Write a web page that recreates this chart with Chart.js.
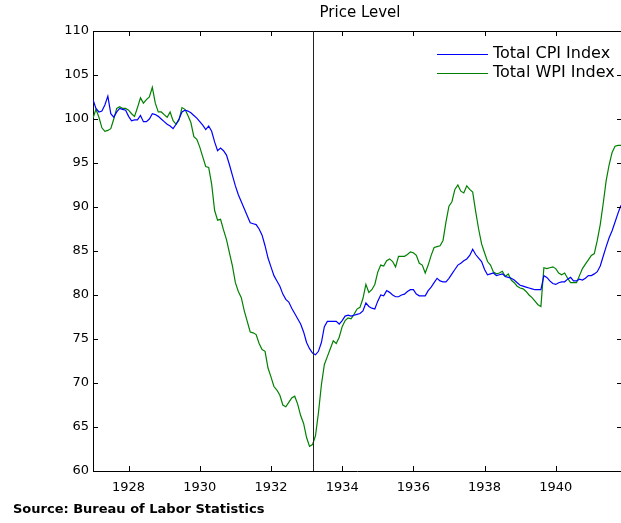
<!DOCTYPE html>
<html lang="en">
  <head>
    <meta charset="UTF-8">
    <title>Price Level</title>
    <script src="https://cdn.jsdelivr.net/npm/chart.js"></script>
    <style>
      body {
        margin: 0;
        padding: 0;
        background-color: #ffffff;
      }
      #priceChart {
        display: block;
      }
    </style>
  </head>
  <body>
  <canvas id="priceChart" width="621" height="523"></canvas>

  <script>
  // monthly values, Jan 1927 onward
  var startYear = 1927;
  var cpiValues = [
    102.2, 101.2, 100.8, 100.9, 101.6, 102.6, 100.6, 100.2, 100.8, 101.2, 101.1, 101.0,
    100.3, 99.8, 99.9, 99.9, 100.4, 99.7, 99.7, 100.0, 100.6, 100.5, 100.3, 100.0,
    99.7, 99.4, 99.2, 98.9, 99.4, 100.0, 100.8, 101.0, 100.9, 100.7, 100.4, 100.1,
    99.7, 99.3, 98.8, 99.2, 98.6, 97.4, 96.4, 96.7, 96.4, 95.9, 94.8, 93.6,
    92.4, 91.4, 90.6, 89.8, 89.0, 88.2, 88.1, 88.0, 87.5, 86.8, 85.6, 84.2,
    83.2, 82.2, 81.6, 81.0, 80.1, 79.5, 79.2, 78.5, 77.9, 77.3, 76.7, 75.8,
    74.6, 73.9, 73.4, 73.2, 73.6, 74.6, 76.4, 77.0, 77.0, 77.0, 77.0, 76.7,
    77.1, 77.6, 77.7, 77.6, 77.7, 77.8, 77.9, 78.2, 79.1, 78.7, 78.5, 78.4,
    79.3, 80.0, 79.9, 80.5, 80.3, 80.0, 79.8, 79.8, 80.0, 80.1, 80.4, 80.6,
    80.6, 80.1, 79.9, 79.9, 79.9, 80.5, 80.9, 81.4, 81.9, 81.6, 81.5, 81.5,
    81.9, 82.4, 82.9, 83.4, 83.6, 83.9, 84.1, 84.5, 85.2, 84.6, 84.2, 83.8,
    82.9, 82.3, 82.4, 82.5, 82.2, 82.3, 82.4, 82.1, 82.0, 81.9, 81.7, 81.4,
    81.1, 81.0, 80.9, 80.8, 80.7, 80.6, 80.6, 80.6, 82.2, 82.0, 81.6, 81.3,
    81.2, 81.4, 81.5, 81.5, 81.8, 82.0, 81.6, 81.6, 81.8, 81.7, 81.9, 82.2,
    82.2, 82.4, 82.65, 83.3, 84.4, 85.5, 86.5, 87.3, 88.3, 89.3, 90.2
  ];
  var wpiValues = [
    100.1, 101.1, 100.2, 99.0, 98.6, 98.7, 98.9, 100.0, 101.2, 101.4, 101.2, 101.2,
    101.0, 100.6, 100.3, 101.3, 102.4, 101.8, 102.2, 102.5, 103.6, 101.8, 100.8, 100.8,
    100.5, 100.2, 100.8, 99.8, 99.4, 99.9, 101.3, 101.1, 100.4, 99.6, 98.0, 97.7,
    96.8, 95.7, 94.6, 94.5, 92.6, 89.6, 88.5, 88.6, 87.4, 86.3, 84.8, 83.3,
    81.4, 80.4, 79.7, 78.2, 77.0, 75.8, 75.7, 75.5, 74.5, 73.8, 73.6, 71.7,
    70.7, 69.6, 69.2, 68.6, 67.5, 67.3, 67.8, 68.3, 68.5, 67.6, 66.3, 65.4,
    63.8, 62.8, 63.0, 64.0, 66.6, 69.8, 72.1, 73.0, 73.9, 74.8, 74.5, 75.2,
    76.4, 77.1, 77.4, 77.3, 77.8, 78.4, 78.6, 79.6, 81.2, 80.3, 80.6, 81.2,
    82.6, 83.4, 83.3, 83.9, 84.1, 83.8, 83.2, 84.4, 84.4, 84.4, 84.6, 84.9,
    84.8, 84.5, 83.6, 83.4, 82.5, 83.4, 84.5, 85.4, 85.5, 85.6, 86.2, 88.3,
    90.1, 90.6, 92.0, 92.5, 91.8, 91.6, 92.4, 92.0, 91.7, 89.5, 87.5, 85.8,
    84.8, 83.8, 83.4, 82.6, 82.4, 82.5, 82.7, 82.1, 82.4, 81.7, 81.4, 81.0,
    80.8, 80.7, 80.4, 80.0, 79.7, 79.3, 78.9, 78.7, 83.1, 83.0, 83.1, 83.2,
    83.0, 82.5, 82.3, 82.5, 81.9, 81.4, 81.4, 81.4, 82.2, 83.0, 83.5, 84.0,
    84.5, 84.7, 86.2, 88.0, 90.4, 93.0, 94.8, 96.2, 96.9, 97.0, 97.0
  ];
  var yearTicks = [1928, 1930, 1932, 1934, 1936, 1938, 1940];
  var levelTicks = [60, 65, 70, 75, 80, 85, 90, 95, 100, 105, 110];
  var markerDate = 1933 + 2 / 12; // March 1933

  function toPoints(values) {
    return values.map(function(v, i) {
      return { x: startYear + i / 12, y: v };
    });
  }

  var tickFont = { family: 'DejaVu Sans', size: 13 };

  // title, source line, legend, inward ticks, top border, marker line
  var decorPlugin = {
    id: 'decor',
    afterDraw: function(chart) {
      var ctx = chart.ctx;
      var area = chart.chartArea;
      var xs = chart.scales.x;
      var ys = chart.scales.y;
      ctx.save();

      ctx.strokeStyle = '#000000';
      ctx.lineWidth = 1;
      ctx.beginPath();
      ctx.moveTo(area.left, area.top + 0.5);
      ctx.lineTo(area.right, area.top + 0.5);
      yearTicks.forEach(function(t) {
        var px = Math.round(xs.getPixelForValue(t)) + 0.5;
        ctx.moveTo(px, area.bottom);
        ctx.lineTo(px, area.bottom - 5);
        ctx.moveTo(px, area.top);
        ctx.lineTo(px, area.top + 5);
      });
      levelTicks.forEach(function(t) {
        var py = Math.round(ys.getPixelForValue(t)) + 0.5;
        ctx.moveTo(area.left, py);
        ctx.lineTo(area.left + 5, py);
        ctx.moveTo(area.right, py);
        ctx.lineTo(area.right - 4, py);
      });
      ctx.stroke();

      var mx = Math.round(xs.getPixelForValue(markerDate)) + 0.5;
      ctx.strokeStyle = '#222222';
      ctx.beginPath();
      ctx.moveTo(mx, area.top);
      ctx.lineTo(mx, area.bottom);
      ctx.stroke();

      ctx.fillStyle = '#000000';
      ctx.font = '15px "DejaVu Sans"';
      ctx.textAlign = 'center';
      ctx.textBaseline = 'middle';
      ctx.fillText('Price Level', 360, 13);

      ctx.font = 'bold 13px "DejaVu Sans"';
      ctx.textAlign = 'left';
      ctx.textBaseline = 'alphabetic';
      ctx.fillText('Source: Bureau of Labor Statistics', 13, 513);

      ctx.font = '16px "DejaVu Sans"';
      ctx.textBaseline = 'middle';
      chart.data.datasets.forEach(function(ds, i) {
        var ly = 54 + i * 19;
        ctx.strokeStyle = ds.borderColor;
        ctx.lineWidth = 1;
        ctx.beginPath();
        ctx.moveTo(437, ly + 0.5);
        ctx.lineTo(488, ly + 0.5);
        ctx.stroke();
        ctx.fillStyle = '#000000';
        ctx.fillText(ds.label, 493, ly);
      });
      ctx.restore();
    }
  };

  var ctx = document.getElementById('priceChart').getContext('2d');
  var priceChart = new Chart(ctx, {
    type: 'line',
    data: {
      datasets: [{
        label: 'Total CPI Index',
        data: toPoints(cpiValues),
        borderColor: '#0000ff',
        borderWidth: 1.2,
        pointRadius: 0,
        fill: false
      }, {
        label: 'Total WPI Index',
        data: toPoints(wpiValues),
        borderColor: '#008000',
        borderWidth: 1.2,
        pointRadius: 0,
        fill: false
      }]
    },
    options: {
      responsive: false,
      animation: false,
      layout: { padding: { top: 31, left: 0, right: 0, bottom: 0 } },
      plugins: {
        legend: { display: false },
        title: { display: false },
        tooltip: { enabled: false }
      },
      scales: {
        x: {
          type: 'linear',
          min: startYear,
          max: startYear + (cpiValues.length - 1) / 12,
          afterBuildTicks: function(scale) {
            scale.ticks = yearTicks.map(function(v) { return { value: v }; });
          },
          afterFit: function(scale) {
            scale.height = 52;
          },
          grid: { display: false, drawTicks: false },
          border: { display: true, color: '#000000', width: 1 },
          ticks: {
            color: '#000000',
            font: tickFont,
            padding: 9,
            maxRotation: 0,
            callback: function(v) { return String(v); }
          }
        },
        y: {
          min: 60,
          max: 110,
          afterBuildTicks: function(scale) {
            scale.ticks = levelTicks.map(function(v) { return { value: v }; });
          },
          afterFit: function(scale) {
            scale.width = 93;
          },
          grid: { display: false, drawTicks: false },
          border: { display: true, color: '#000000', width: 1 },
          ticks: {
            color: '#000000',
            font: tickFont,
            padding: 4,
            callback: function(v) { return String(v); }
          }
        }
      }
    },
    plugins: [decorPlugin]
  });
  </script>
  </body>
</html>
